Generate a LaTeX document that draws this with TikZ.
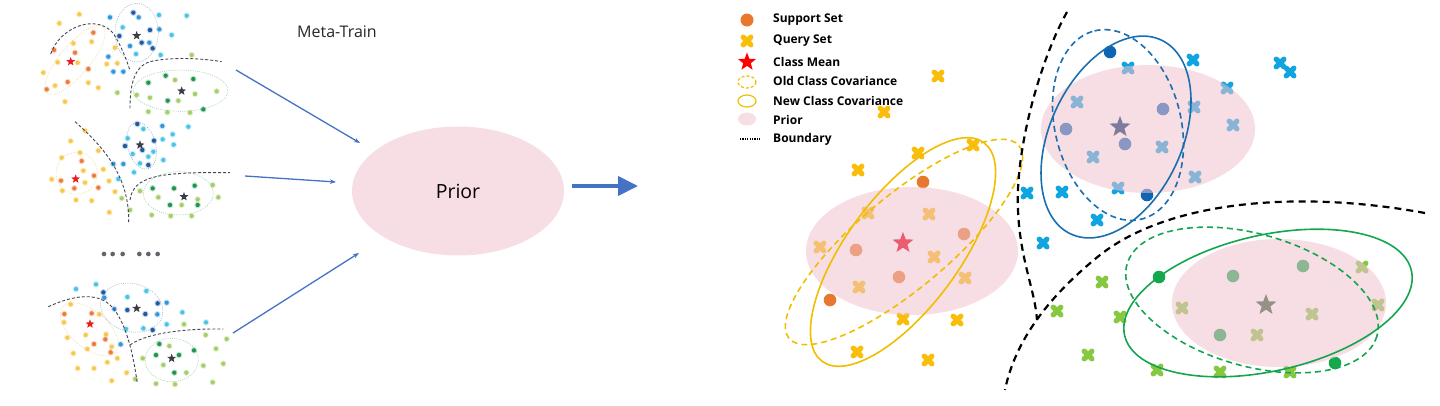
\documentclass[tikz,border=0pt]{standalone}
\usepackage{fontspec}
\setmainfont{Open Sans}
\usetikzlibrary{arrows.meta,shapes.geometric}
\definecolor{ly}{RGB}{246,200,75}
\definecolor{lo}{RGB}{234,125,60}
\definecolor{lr}{RGB}{230,30,30}
\definecolor{lb}{RGB}{50,150,218}
\definecolor{lc}{RGB}{75,195,230}
\definecolor{ld}{RGB}{30,90,160}
\definecolor{lg}{RGB}{30,150,80}
\definecolor{ll}{RGB}{165,205,105}
\definecolor{lk}{RGB}{60,60,70}
\definecolor{ycr}{RGB}{250,190,10}
\definecolor{orc}{RGB}{232,120,45}
\definecolor{bcr}{RGB}{15,165,225}
\definecolor{bdc}{RGB}{15,100,180}
\definecolor{gcr}{RGB}{135,200,65}
\definecolor{gdc}{RGB}{20,170,75}
\definecolor{yline}{RGB}{240,190,0}
\definecolor{bline}{RGB}{25,110,175}
\definecolor{gline}{RGB}{20,165,80}
\definecolor{priorpink}{RGB}{247,222,228}
\definecolor{pinkA}{RGB}{240,194,206}
\definecolor{arrblue}{RGB}{68,114,196}
\definecolor{dy}{RGB}{240,212,150}
\definecolor{db}{RGB}{140,170,205}
\definecolor{dg}{RGB}{140,200,170}
\definecolor{bnd}{RGB}{70,70,80}
\definecolor{stY}{RGB}{236,92,112}
\definecolor{stB}{RGB}{125,125,155}
\definecolor{stG}{RGB}{150,145,135}
\newcommand\lsq[3]{\fill[#3,opacity=0.25] (#1,#2) circle[radius=10]; \fill[#3] (#1,#2) circle[radius=6.5];}
\newcommand\starat[4]{\fill[#4,shift={(#1,#2)}] (-90:#3) -- (-54:{0.42*#3}) -- (-18:#3) -- (18:{0.42*#3}) -- (54:#3) -- (90:{0.42*#3}) -- (126:#3) -- (162:{0.42*#3}) -- (198:#3) -- (234:{0.42*#3}) -- cycle;}
\newcommand\qx[3]{\draw[#3,line width=5.3pt,line cap=round] ({#1-3.8},{#2-3.8}) -- ({#1+3.8},{#2+3.8}) ({#1-3.8},{#2+3.8}) -- ({#1+3.8},{#2-3.8});}
\newcommand\qd[3]{\fill[#3] (#1,#2) circle[radius=6.3];}
\tikzset{
  ldot/.style={line width=0.5pt,dash pattern=on 1pt off 1.2pt},
  lbd/.style={bnd,line width=0.9pt,dash pattern=on 3pt off 2pt},
  thinarrow/.style={arrblue,line width=1.3pt,-{Stealth[length=6pt,width=4.5pt]}},
  bigarrow/.style={arrblue,line width=4pt,-{Triangle[length=20pt,width=19pt]}},
  legtext/.style={anchor=west,inner sep=0pt,font=\bfseries\fontsize{12}{14}\selectfont},
  cov/.style={line width=1.6pt},
  covd/.style={line width=1.6pt,dash pattern=on 6pt off 4pt},
  rbd/.style={black,line width=2.2pt,dash pattern=on 7pt off 5pt}
}
\begin{document}
\begin{tikzpicture}[x=1pt,y=-1pt]
\useasboundingbox (0,0) rectangle (1440,405);

% ---------------- left panel 1
\begin{scope}[shift={(30pt,0pt)},x=0.33333pt,y=-0.33333pt]
\draw[ldot,dy,shift={(135,180)},rotate=50] (0,0) ellipse [x radius=130,y radius=45];
\draw[ldot,db] (320,98) ellipse [x radius=65,y radius=88];
\draw[ldot,dg] (452,272) ellipse [x radius=142,y radius=62];
\foreach \x/\y in {148/43,88/70,130/130,185/125,83/187,143/188,40/218,75/257,175/248,205/263,105/305,230/192,262/190,255/143} {\lsq{\x}{\y}{ly}}
\foreach \x/\y in {190/98,72/150,135/158,175/207,113/246,50/268} {\lsq{\x}{\y}{lo}}
\foreach \x/\y in {240/52,326/52,388/88,300/138,358/128,235/170,250/215,280/215} {\lsq{\x}{\y}{lb}}
\foreach \x/\y in {387/45,470/47,278/82,425/105,318/162,392/165} {\lsq{\x}{\y}{lc}}
\foreach \x/\y in {310/38,268/108,360/90,335/128,368/145} {\lsq{\x}{\y}{ld}}
\foreach \x/\y in {355/248,407/227,490/237,413/302,520/328} {\lsq{\x}{\y}{lg}}
\foreach \x/\y in {485/165,262/278,320/285,360/293,435/240,445/302,495/282,560/274,480/338,412/337,355/335} {\lsq{\x}{\y}{ll}}
\starat{122}{185}{14}{lr}
\starat{320}{107}{14}{lk}
\starat{455}{273}{14}{lk}
\draw[lbd] (62,162) .. controls (90,80) and (200,40) .. (250,100) .. controls (275,140) and (290,180) .. (300,212);
\draw[lbd] (300,325) .. controls (300,260) and (310,200) .. (360,185) .. controls (420,170) and (520,175) .. (575,185);
\end{scope}

% ---------------- left panel 2
\begin{scope}[shift={(30pt,-110pt)},x=0.33333pt,y=-0.33333pt]
\draw[ldot,dy] (140,190) ellipse [x radius=62,y radius=63];
\draw[ldot,db,shift={(335,107)},rotate=105] (0,0) ellipse [x radius=72,y radius=42];
\draw[ldot,dg] (445,250) ellipse [x radius=105,y radius=65];
\foreach \x/\y in {165/62,122/93,150/128,205/122,95/143,160/182,220/178,65/208,165/218,237/213,97/242,255/245,138/270,185/272,238/307} {\lsq{\x}{\y}{ly}}
\foreach \x/\y in {155/153,192/197,93/212,133/235,205/233} {\lsq{\x}{\y}{lo}}
\foreach \x/\y in {322/42,372/92,285/108,337/120,355/165} {\lsq{\x}{\y}{ld}}
\foreach \x/\y in {397/48,280/162,250/162} {\lsq{\x}{\y}{lb}}
\foreach \x/\y in {340/57,475/50,428/73,293/85,398/88,431/104,308/132,370/125,355/140,330/160,400/150,312/187,265/207} {\lsq{\x}{\y}{lc}}
\foreach \x/\y in {368/235,432/235,494/227,420/285,503/285} {\lsq{\x}{\y}{lg}}
\foreach \x/\y in {548/225,385/262,503/268,565/262,455/285,275/265,330/243,365/315,422/318,485/318,300/300} {\lsq{\x}{\y}{ll}}
\starat{137}{207}{14}{lr}
\starat{330}{105}{14}{lk}
\starat{462}{260}{14}{lk}
\draw[lbd] (135,35) .. controls (220,110) and (300,200) .. (296,340);
\draw[lbd] (300,270) .. controls (310,200) and (380,185) .. (600,188);
\end{scope}

% ---------------- left panel 3
\begin{scope}[shift={(30pt,-235pt)},x=0.33333pt,y=-0.33333pt]
\foreach \x in {222,248,278,328,355,383} {\fill[lk!80] (\x,57) circle[radius=7];}
\draw[ldot,dy,shift={(178,283)},rotate=-40] (0,0) ellipse [x radius=105,y radius=55];
\draw[ldot,db,shift={(305,218)},rotate=-15] (0,0) ellipse [x radius=95,y radius=72];
\draw[ldot,dg] (425,375) ellipse [x radius=80,y radius=65];
\foreach \x/\y in {122/208,208/238,102/262,112/308,167/300,228/298,172/342,245/335,130/355,262/370,232/382,143/400,192/400,245/437,290/413} {\lsq{\x}{\y}{ly}}
\foreach \x/\y in {103/237,185/235,226/313,192/327,242/352} {\lsq{\x}{\y}{lo}}
\foreach \x/\y in {138/162,198/148,292/186,349/168,457/232,288/282,340/280,410/268,528/262} {\lsq{\x}{\y}{lc}}
\foreach \x/\y in {223/188,253/222,410/203,382/238,272/328} {\lsq{\x}{\y}{lb}}
\foreach \x/\y in {220/172,292/225,346/237,383/205,368/285} {\lsq{\x}{\y}{ld}}
\foreach \x/\y in {388/327,378/360,447/360,492/346,433/413} {\lsq{\x}{\y}{lg}}
\foreach \x/\y in {462/268,527/300,590/312,418/333,338/370,400/390,558/341,580/386,520/392,469/413,316/432,378/446,435/448,548/442} {\lsq{\x}{\y}{ll}}
\starat{180}{267}{14}{lr}
\starat{320}{220}{14}{lk}
\starat{425}{370}{14}{lk}
\draw[lbd] (55,215) .. controls (110,190) and (200,160) .. (250,220) .. controls (290,270) and (310,360) .. (322,445);
\draw[lbd] (300,330) .. controls (340,300) and (440,280) .. (580,282);
\end{scope}

% ---------------- middle
\node[font=\fontsize{16}{19}\selectfont,text=black!85] (mt) at (337,32) {Meta-Train};
\node[ellipse,fill=priorpink,minimum width=212pt,minimum height=129pt,inner sep=0pt,font=\fontsize{19.5}{23}\selectfont] (prior) at (458,191) {Prior};
\coordinate (s1) at (236,70);  \coordinate (e1) at (360,143);
\coordinate (s2) at (245,176); \coordinate (e2) at (336,182);
\coordinate (s3) at (233,333); \coordinate (e3) at (359,253);
\draw[thinarrow] (s1) -- (e1);
\draw[thinarrow] (s2) -- (e2);
\draw[thinarrow] (s3) -- (e3);
\coordinate (bs) at (572,186); \coordinate (be) at (638,186);
\draw[bigarrow] (bs) -- (be);

% ---------------- legend
\fill[orc] (747,20) circle[radius=6.5];
\qx{747}{41}{ycr}
\starat{747}{62}{9.5}{red}
\draw[yline,line width=1.2pt,dash pattern=on 3pt off 2pt] (747,82) ellipse [x radius=9,y radius=6];
\draw[yline,line width=1.2pt] (747,101) ellipse [x radius=9,y radius=6];
\fill[priorpink] (747,119) ellipse [x radius=9,y radius=6.5];
\draw[black,line width=1.2pt,dash pattern=on 1.2pt off 1.2pt] (740,139) -- (760,139);
\node[legtext] (t1) at (773,20) {Support Set};
\node[legtext] (t2) at (773,41) {Query Set};
\node[legtext] (t3) at (773,62) {Class Mean};
\node[legtext] (t4) at (773,81) {Old Class Covariance};
\node[legtext] (t5) at (773,101) {New Class Covariance};
\node[legtext] (t6) at (773,120) {Prior};
\node[legtext] (t7) at (773,139) {Boundary};

% ---------------- right: points
\foreach \x/\y in {938/76,884/112,918/153,973/145,858/170,820/247,903/319,957/320,857/352,928/360,868/213,929/214,934/257,859/287,965/278} {\qx{\x}{\y}{ycr}}
\foreach \x/\y in {923/182,830/300,856/250,964/234,899/277} {\qd{\x}{\y}{orc}}
\foreach \x/\y in {1193/60,1280/63,1290/72,1027/193,1062/192,1097/220,1043/243,1128/68,1077/102,1194/107,1227/88,1233/125,1093/157,1162/147,1195/177,1118/188} {\qx{\x}{\y}{bcr}}
\foreach \x/\y in {1110/52,1147/195,1066/129,1163/109,1125/144} {\qd{\x}{\y}{bdc}}
\foreach \x/\y in {1102/282,1057/311,1120/317,1088/355,1157/370,1220/372,1290/372,1362/267,1378/305,1182/308,1312/314,1257/335} {\qx{\x}{\y}{gcr}}
\foreach \x/\y in {1159/277,1335/363,1233/276,1303/266,1220/335} {\qd{\x}{\y}{gdc}}

% pink priors
\fill[pinkA,fill opacity=0.55] (912,251) ellipse [x radius=106,y radius=64];
\fill[pinkA,fill opacity=0.55] (1148,129) ellipse [x radius=107,y radius=64];
\fill[pinkA,fill opacity=0.55] (1279,303) ellipse [x radius=107,y radius=64];

% stars
\starat{903}{243}{11}{stY}
\starat{1120}{127}{11}{stB}
\starat{1266}{305}{11}{stG}

% covariances
\draw[cov,yline,shift={(903,252)},rotate=53.5] (0,0) ellipse [x radius=136,y radius=56];
\draw[covd,yline,shift={(904,242)},rotate=40] (0,0) ellipse [x radius=150,y radius=46];
\draw[cov,bline,shift={(1116,137)},rotate=65] (0,0) ellipse [x radius=107,y radius=66];
\draw[covd,bline,shift={(1118,125)},rotate=104] (0,0) ellipse [x radius=97,y radius=63];
\draw[cov,gline,shift={(1268,303)},rotate=12.7] (0,0) ellipse [x radius=147,y radius=68];
\draw[covd,gline,shift={(1252,300)},rotate=-16] (0,0) ellipse [x radius=130,y radius=66];

% boundaries
\draw[rbd] (1067,12) .. controls (1040,60) and (1015,150) .. (1018,210) .. controls (1020,260) and (1035,290) .. (1037,320);
\draw[rbd] (1425,213) .. controls (1300,190) and (1170,200) .. (1100,255) .. controls (1050,295) and (1015,340) .. (1005,390);
\end{tikzpicture}
\end{document}
